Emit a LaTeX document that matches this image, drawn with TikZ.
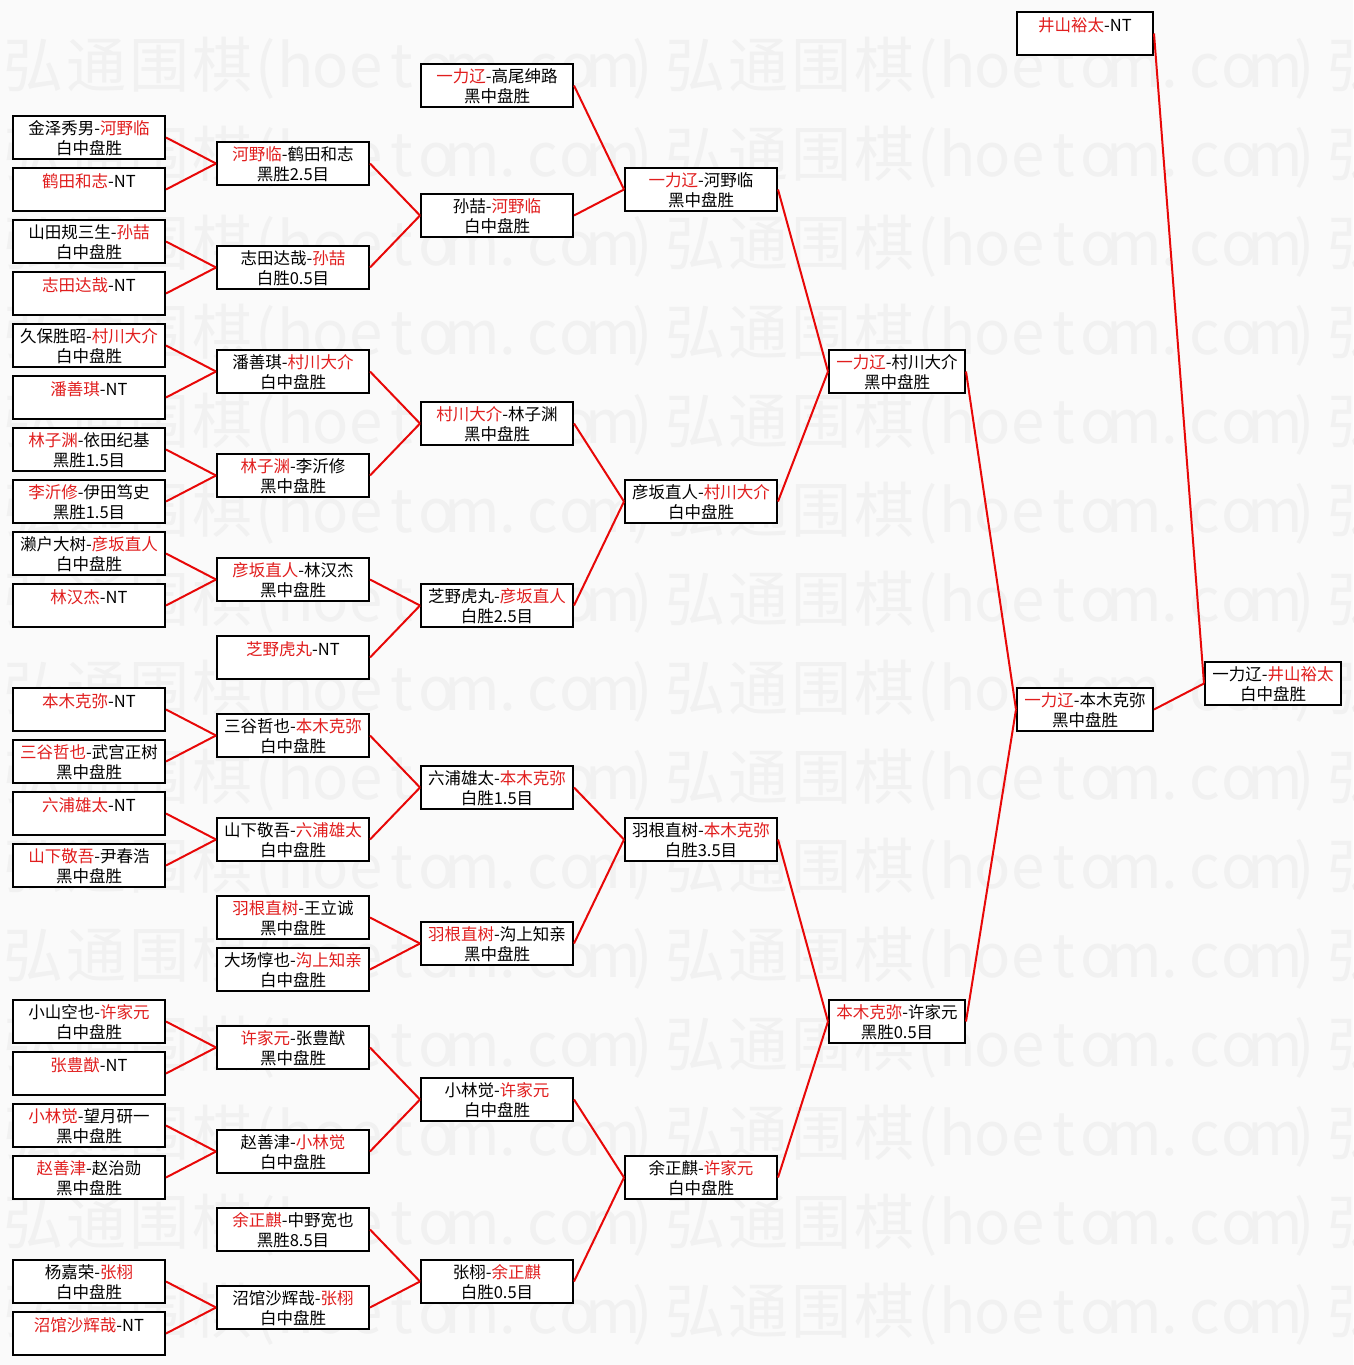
\documentclass[tikz,border=0pt]{standalone}
\usepackage{fontspec}
\setmainfont{Noto Sans CJK SC}
\definecolor{namered}{RGB}{225,30,30}
\definecolor{linered}{RGB}{232,8,8}
\definecolor{bggray}{RGB}{250,250,250}
\definecolor{wmgray}{RGB}{241,241,241}
\newcommand\rn[1]{\textcolor{namered}{#1}}
\newcommand\hwc[1]{\makebox[63pt]{#1}}
\newcommand\hwl[1]{\makebox[35.3pt]{#1}}
\newcommand\hwp[1]{\makebox[24pt]{#1}}
\newcommand\wmtext{\hwc{弘}\hwc{通}\hwc{围}\hwc{棋}\hwp{(}\hwl{h}\hwl{o}\hwl{e}\hwl{t}\hwl{o}\hwl{m}\hwl{.}\hwl{c}\hwl{o}\hwl{m}\hwp{)}}
\tikzset{
  bx/.style={draw=black, line width=2pt, fill=white, inner sep=0pt,
    minimum height=43pt, align=center, font=\fontsize{16.5}{20}\selectfont},
  link/.style={draw=linered, line width=2pt},
  wm/.style={inner sep=0pt, outer sep=0pt, anchor=base west, text=wmgray,
    font=\fontsize{60}{60}\selectfont},
}
% wide boxes (154 px) and narrow boxes (138 px): name, left x, top y, line 1, line 2
\newcommand\bxA[5]{\node[bx, minimum width=152pt] (#1) at ({#2+77},{#3+22.5}) {\rule{0pt}{16pt}#4\\#5\rule[-1pt]{0pt}{1pt}};}
\newcommand\bxB[5]{\node[bx, minimum width=136pt] (#1) at ({#2+69},{#3+22.5}) {\rule{0pt}{16pt}#4\\#5\rule[-1pt]{0pt}{1pt}};}
\begin{document}
\begin{tikzpicture}[x=1pt, y=-1pt]
\useasboundingbox (0,0) rectangle (1353,1365);
\fill[bggray] (0,0) rectangle (1353,1365);
\begin{scope}
\clip (0,0) rectangle (1353,1365);
\foreach \r in {0,...,14} {
  \foreach \c in {0,1,2} {
    \node[wm] (wm\r-\c) at ({2+662*\c},{87+89*\r}) {\wmtext};
  }
}
\end{scope}
% column 1
\bxA{a1}{12}{115}{金泽秀男-\rn{河野临}}{白中盘胜}
\bxA{a2}{12}{167}{\rn{鹤田和志}-NT}{}
\bxA{a3}{12}{219}{山田规三生-\rn{孙喆}}{白中盘胜}
\bxA{a4}{12}{271}{\rn{志田达哉}-NT}{}
\bxA{a5}{12}{323}{久保胜昭-\rn{村川大介}}{白中盘胜}
\bxA{a6}{12}{375}{\rn{潘善琪}-NT}{}
\bxA{a7}{12}{427}{\rn{林子渊}-依田纪基}{黑胜1.5目}
\bxA{a8}{12}{479}{\rn{李沂修}-伊田笃史}{黑胜1.5目}
\bxA{a9}{12}{531}{濑户大树-\rn{彦坂直人}}{白中盘胜}
\bxA{a10}{12}{583}{\rn{林汉杰}-NT}{}
\bxA{a11}{12}{687}{\rn{本木克弥}-NT}{}
\bxA{a12}{12}{739}{\rn{三谷哲也}-武宫正树}{黑中盘胜}
\bxA{a13}{12}{791}{\rn{六浦雄太}-NT}{}
\bxA{a14}{12}{843}{\rn{山下敬吾}-尹春浩}{黑中盘胜}
\bxA{a15}{12}{999}{小山空也-\rn{许家元}}{白中盘胜}
\bxA{a16}{12}{1051}{\rn{张豊猷}-NT}{}
\bxA{a17}{12}{1103}{\rn{小林觉}-望月研一}{黑中盘胜}
\bxA{a18}{12}{1155}{\rn{赵善津}-赵治勋}{黑中盘胜}
\bxA{a19}{12}{1259}{杨嘉荣-\rn{张栩}}{白中盘胜}
\bxA{a20}{12}{1311}{\rn{沼馆沙辉哉}-NT}{}
% column 2
\bxA{b1}{216}{141}{\rn{河野临}-鹤田和志}{黑胜2.5目}
\bxA{b2}{216}{245}{志田达哉-\rn{孙喆}}{白胜0.5目}
\bxA{b3}{216}{349}{潘善琪-\rn{村川大介}}{白中盘胜}
\bxA{b4}{216}{453}{\rn{林子渊}-李沂修}{黑中盘胜}
\bxA{b5}{216}{557}{\rn{彦坂直人}-林汉杰}{黑中盘胜}
\bxA{b6}{216}{635}{\rn{芝野虎丸}-NT}{}
\bxA{b7}{216}{713}{三谷哲也-\rn{本木克弥}}{白中盘胜}
\bxA{b8}{216}{817}{山下敬吾-\rn{六浦雄太}}{白中盘胜}
\bxA{b9}{216}{895}{\rn{羽根直树}-王立诚}{黑中盘胜}
\bxA{b10}{216}{947}{大场惇也-\rn{沟上知亲}}{白中盘胜}
\bxA{b11}{216}{1025}{\rn{许家元}-张豊猷}{黑中盘胜}
\bxA{b12}{216}{1129}{赵善津-\rn{小林觉}}{白中盘胜}
\bxA{b13}{216}{1207}{\rn{余正麒}-中野宽也}{黑胜8.5目}
\bxA{b14}{216}{1285}{沼馆沙辉哉-\rn{张栩}}{白中盘胜}
% column 3
\bxA{c1}{420}{63}{\rn{一力辽}-高尾绅路}{黑中盘胜}
\bxA{c2}{420}{193}{孙喆-\rn{河野临}}{白中盘胜}
\bxA{c3}{420}{401}{\rn{村川大介}-林子渊}{黑中盘胜}
\bxA{c4}{420}{583}{芝野虎丸-\rn{彦坂直人}}{白胜2.5目}
\bxA{c5}{420}{765}{六浦雄太-\rn{本木克弥}}{白胜1.5目}
\bxA{c6}{420}{921}{\rn{羽根直树}-沟上知亲}{黑中盘胜}
\bxA{c7}{420}{1077}{小林觉-\rn{许家元}}{白中盘胜}
\bxA{c8}{420}{1259}{张栩-\rn{余正麒}}{白胜0.5目}
% column 4
\bxA{d1}{624}{167}{\rn{一力辽}-河野临}{黑中盘胜}
\bxA{d2}{624}{479}{彦坂直人-\rn{村川大介}}{白中盘胜}
\bxA{d3}{624}{817}{羽根直树-\rn{本木克弥}}{白胜3.5目}
\bxA{d4}{624}{1155}{余正麒-\rn{许家元}}{白中盘胜}
% column 5
\bxB{e1}{828}{349}{\rn{一力辽}-村川大介}{黑中盘胜}
\bxB{e2}{828}{999}{\rn{本木克弥}-许家元}{黑胜0.5目}
% column 6
\bxB{f1}{1016}{11}{\rn{井山裕太}-NT}{}
\bxB{f2}{1016}{687}{\rn{一力辽}-本木克弥}{黑中盘胜}
% column 7
\bxB{g1}{1204}{661}{一力辽-\rn{井山裕太}}{白中盘胜}
% connectors
\foreach \s/\t in {a1/b1,a2/b1,a3/b2,a4/b2,a5/b3,a6/b3,a7/b4,a8/b4,a9/b5,a10/b5,
  a11/b7,a12/b7,a13/b8,a14/b8,a15/b11,a16/b11,a17/b12,a18/b12,a19/b14,a20/b14,
  b1/c2,b2/c2,b3/c3,b4/c3,b5/c4,b6/c4,b7/c5,b8/c5,b9/c6,b10/c6,b11/c7,b12/c7,b13/c8,b14/c8,
  c1/d1,c2/d1,c3/d2,c4/d2,c5/d3,c6/d3,c7/d4,c8/d4,
  d1/e1,d2/e1,d3/e2,d4/e2,e1/f2,e2/f2,f1/g1,f2/g1} {
  \draw[link] (\s.east) -- (\t.west);
}
\end{tikzpicture}
\end{document}
